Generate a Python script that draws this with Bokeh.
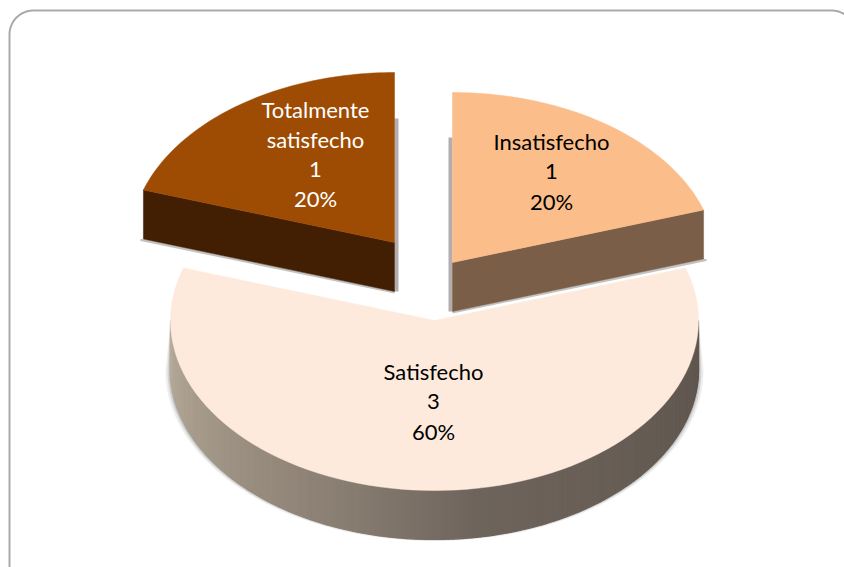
import math
from bokeh.plotting import figure
from bokeh.embed import file_html
from bokeh.resources import INLINE
from bokeh.models import Range1d
from bokeh.core.properties import value

categories = ["Insatisfecho", "Satisfecho", "Totalmente satisfecho"]
values = [1, 3, 1]
top_colors = ["#fbbd8a", "#fdeadc", "#9e4c04"]
side_colors = ["#7b5e47", None, "#421f02"]
text_colors = ["#000000", "#000000", "#ffffff"]

# geometry in page pixels
A, B, DEPTH = 264, 170, 49
apex = [(452, 262), (434, 320), (394, 242)]
label_xy = [(551, 141), (433, 371), (315, 109)]
LINE_GAP = 29.8
side_stops = [(0.0, (94, 85, 77)), (0.45, (110, 100, 92)), (0.6, (135, 124, 112)), (1.0, (184, 171, 154))]

W, H = 844, 567
p = figure(width=W, height=H, x_range=Range1d(0, W), y_range=Range1d(H, 0),
           toolbar_location=None, output_backend="svg", min_border=0)
p.axis.visible = False
p.grid.visible = False
p.outline_line_color = None
p.background_fill_color = "#ffffff"
p.border_fill_color = "#ffffff"

# rounded frame
fx, fy, R = [], [], 24
fx.append(9); fy.append(600)
for i in range(25):
    t = math.radians(180 + 90 * i / 24)
    fx.append(9 + R + R * math.cos(t)); fy.append(10 + R + R * math.sin(t))
for i in range(25):
    t = math.radians(270 + 90 * i / 24)
    fx.append(831 + R * math.cos(t)); fy.append(10 + R + R * math.sin(t))
p.line(fx, fy, line_color="#aaaaaa", line_width=2)


def edge(c, deg):
    t = math.radians(deg)
    return c[0] + A * math.sin(t), c[1] - B * math.cos(t)


def arc(c, d0, d1, n=90):
    pts = [edge(c, d0 + (d1 - d0) * i / n) for i in range(n + 1)]
    return [q[0] for q in pts], [q[1] for q in pts]


def mix(f):
    for (a, ca), (b, cb) in zip(side_stops, side_stops[1:]):
        if f <= b:
            u = (f - a) / (b - a)
            return "#%02x%02x%02x" % tuple(round(x + (y - x) * u) for x, y in zip(ca, cb))
    return "#b8ab9a"


total = sum(values)
spans, start = [], 0.0
for v in values:
    spans.append((start, start + 360.0 * v / total))
    start += 360.0 * v / total

# ---- main slice (index 1) -------------------------------------------------
i = 1
c = apex[i]
d0, d1 = spans[i]
# soft shadow round the wall
for grow, alpha in ((5, 0.10), (3, 0.16), (1.5, 0.22)):
    xs, ys = arc(c, 90, 270)
    xs = [c[0] + (x - c[0]) * (A + grow) / A for x in xs]
    ys = [y + DEPTH + grow * 0.3 for y in ys]
    top_x, top_y = arc(c, 90, 270)
    p.patch(xs + top_x[::-1], ys + top_y[::-1], fill_color="#555555", fill_alpha=alpha, line_color=None)
# wall in shaded strips
N = 180
sx, sy, sc = [], [], []
for k in range(N):
    a0 = 90 + 180 * k / N
    a1 = 90 + 180 * (k + 1) / N
    x0, y0 = edge(c, a0)
    x1, y1 = edge(c, a1)
    sx.append([x0, x1, x1, x0])
    sy.append([y0, y1, y1 + DEPTH, y0 + DEPTH])
    sc.append(mix(k / (N - 1)))
p.patches(sx, sy, fill_color=sc, line_color=sc, line_width=1.2)
xs, ys = arc(c, d0, d1)
p.patch([c[0]] + xs, [c[1]] + ys, fill_color=top_colors[i], line_color=top_colors[i], line_width=0.5)

# ---- exploded slices -------------------------------------------------------
for i, wall_deg, strip in ((2, spans[2][0], (394, 398, 118)), (0, spans[0][1], (448, 452, 137))):
    c = apex[i]
    d0, d1 = spans[i]
    # vertical shadow strip beside the inner edge
    p.patch([strip[0], strip[1], strip[1], strip[0]],
            [strip[2], strip[2], c[1] + DEPTH, c[1] + DEPTH],
            fill_color="#b3adb0", line_color=None)
    ex, ey = edge(c, wall_deg)
    # shadow under the wall
    p.patch([c[0], ex, ex + (3 if i == 0 else -3), ex + (3 if i == 0 else -3), c[0]],
            [c[1] + DEPTH, ey + DEPTH, ey + DEPTH, ey + DEPTH + 2, c[1] + DEPTH + 2],
            fill_color="#999999", fill_alpha=0.6, line_color=None)
    p.patch([c[0], ex, ex, c[0]], [c[1], ey, ey + DEPTH, c[1] + DEPTH],
            fill_color=side_colors[i], line_color=side_colors[i], line_width=0.5)
    xs, ys = arc(c, d0, d1, 60)
    p.patch([c[0]] + xs, [c[1]] + ys, fill_color=top_colors[i], line_color=top_colors[i], line_width=0.5)

# ---- labels ---------------------------------------------------------------
for i, name in enumerate(categories):
    lines = name.split(" ") + [str(values[i]), "%d%%" % round(100 * values[i] / total)]
    lx, ly = label_xy[i]
    p.text([lx] * len(lines), [ly + LINE_GAP * k for k in range(len(lines))], text=lines,
           text_font=value("Lato"), text_font_size="22px", text_color=text_colors[i],
           text_align="center", text_baseline="middle")

open("out.html", "w").write(file_html(p, INLINE))
